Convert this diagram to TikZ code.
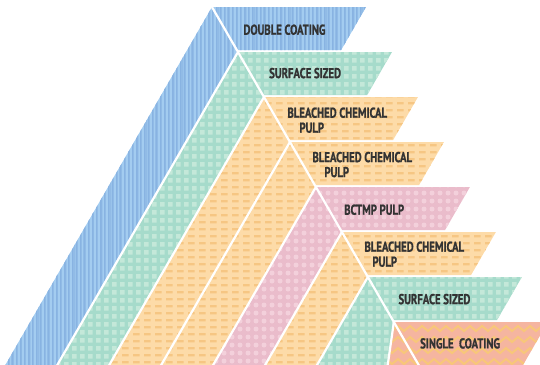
\documentclass[tikz,border=0pt]{standalone}
\usepackage{fontspec}
\usepackage{xcolor}
\usepackage{tikz}
\usetikzlibrary{calc}

\newfontfamily\layerfont{PT Sans}[FakeStretch=0.75, FakeBold=1]

\definecolor{blueBase}{HTML}{A3CCF0}
\definecolor{blueLine}{HTML}{88B3E2}
\definecolor{greenBase}{HTML}{A6DBCB}
\definecolor{greenSquare}{HTML}{C4E8D9}
\definecolor{orangeBase}{HTML}{FDDBA8}
\definecolor{orangeDash}{HTML}{F6C683}
\definecolor{pinkBase}{HTML}{EABCCB}
\definecolor{pinkDot}{HTML}{F3D0DB}
\definecolor{salmonBase}{HTML}{F5B5A0}
\definecolor{salmonZig}{HTML}{F8C779}
\definecolor{labelText}{HTML}{333333}

% one layer: bar to the right, band down to the left
\newcommand\layerpath[2]{(a#1) -- (t#1) -- (r#1) -- (d#1) -- (a#2) -- (l#2) -- (l#1) -- cycle}

\begin{document}
\begin{tikzpicture}[
        x=1pt, y=-1pt,
        gap/.style={white, line width=2.2pt},
        layerlabel/.style={anchor=north west, inner sep=0pt, align=left, text=labelText,
            font=\layerfont\bfseries\fontsize{14.3}{15}\selectfont}
    ]

    \useasboundingbox (0,0) rectangle (540,364);
    \clip (0,0) rectangle (540,364);

    \foreach \k in {0,...,7} {
        \coordinate (a\k) at ({212+25.98*\k}, {7+45*\k});
        \coordinate (t\k) at ($(a\k)+(154,0)$);
        \coordinate (r\k) at ($(a\k)+(129.17,43)$);
        \coordinate (d\k) at ($(a\k)+(24.83,43)$);
        \coordinate (l\k) at ({212+25.98*\k-0.57735*(363-45*\k)}, 370);
    }
    % last layer runs off the page
    \coordinate (r7) at ($(a7)+(126.29,48)$);
    \coordinate (d7) at ($(a7)+(27.71,48)$);
    \coordinate (l7) at (387,370);
    \coordinate (a8) at (d7);
    \coordinate (l8) at (d7);

    % double coating
    \begin{scope}
        \clip \layerpath{0}{1};
        \fill[blueBase] (0,0) rectangle (380,370);
        \fill[blueLine] \foreach \x in {0,4,...,380} {(\x,0) rectangle ++(1.5,370)};
        \fill[blueLine] \foreach \x in {2.4,11.4,...,380} {(\x,0) rectangle ++(0.9,370)};
    \end{scope}

    % surface sized
    \begin{scope}
        \clip \layerpath{1}{2} \layerpath{6}{7};
        \fill[greenBase] (0,0) rectangle (540,370);
        \fill[greenSquare] \foreach \x in {40,48,...,540} {\foreach \y in {50,58,...,370} {(\x,\y) rectangle ++(4.5,4.5)}};
    \end{scope}

    % bleached chemical pulp
    \begin{scope}
        \clip \layerpath{2}{3} \layerpath{3}{4} \layerpath{5}{6};
        \fill[orangeBase] (0,0) rectangle (540,370);
        \fill[orangeDash] \foreach \x in {100,111,...,520} {\foreach \y in {95,102,...,370} {(\x,\y) rectangle ++(6.5,2.3)}};
    \end{scope}

    % bctmp pulp
    \begin{scope}
        \clip \layerpath{4}{5};
        \fill[pinkBase] (0,0) rectangle (540,370);
        \fill[pinkDot] \foreach \x in {200,208,...,480} {\foreach \y in {185,193,...,370} {(\x,\y) circle (2.5)}};
    \end{scope}

    % single coating
    \begin{scope}
        \clip \layerpath{7}{8};
        \fill[salmonBase] (0,0) rectangle (540,370);
        \draw[salmonZig, line width=2pt, line join=miter]
            \foreach \y in {331,342,353,364,375} {(380,\y) \foreach \x in {380,392,...,548} {-- ++(6,-5) -- ++(6,5)}};
    \end{scope}

    % white seams
    \draw[gap] (a0) -- (d7);
    \foreach \k in {1,...,7} {
        \draw[gap] (a\k) -- (l\k);
    }

    \node[layerlabel] (dblcoat) at (243.3,24.3) {DOUBLE COATING};
    \node[layerlabel] (sizedtop) at (269,67.7) {SURFACE SIZED};
    \node[layerlabel] (bleachone) at (287.3,107.3) {BLEACHED CHEMICAL\\\hspace*{12pt}PULP};
    \node[layerlabel] (bleachtwo) at (312.3,151.7) {BLEACHED CHEMICAL\\\hspace*{12pt}PULP};
    \node[layerlabel] (bctmp) at (344,204.3) {BCTMP PULP};
    \node[layerlabel] (bleachthree) at (364.3,241.3) {BLEACHED CHEMICAL\\\hspace*{8pt}PULP};
    \node[layerlabel] (sizedbottom) at (398.3,293.7) {SURFACE SIZED};
    \node[layerlabel] (sglcoat) at (420,338) {SINGLE\ \ COATING};

\end{tikzpicture}
\end{document}
